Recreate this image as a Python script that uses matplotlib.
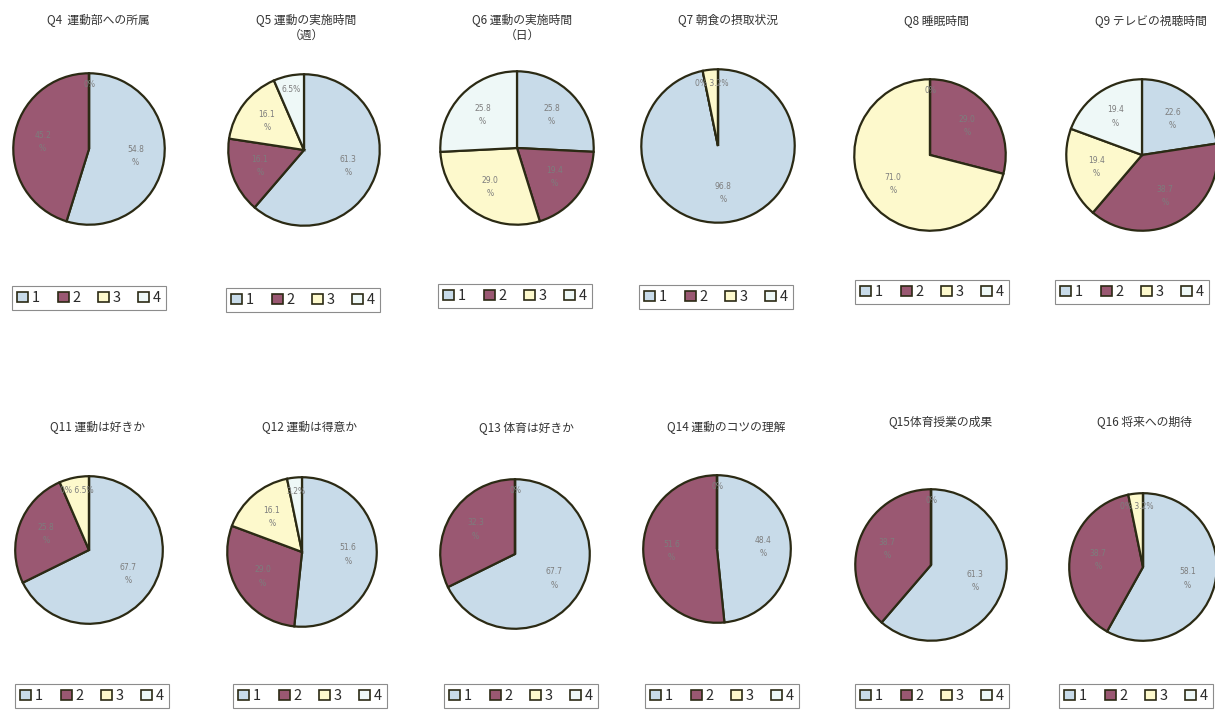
import matplotlib.pyplot as plt
from matplotlib.patches import Patch
import numpy as np

plt.rcParams['font.family'] = ['Noto Sans CJK JP', 'DejaVu Sans']

W, H = 1215, 710

categories = ["1", "2", "3", "4"]
colors = ["#c8dbe9", "#9a5872", "#fdf9cc", "#eef8f7"]

titles = [
    "Q4  運動部への所属", "Q5 運動の実施時間\n（週）", "Q6 運動の実施時間\n（日）",
    "Q7 朝食の摂取状況", "Q8 睡眠時間", "Q9 テレビの視聴時間",
    "Q11 運動は好きか", "Q12 運動は得意か", "Q13 体育は好きか",
    "Q14 運動のコツの理解", "Q15体育授業の成果", "Q16 将来への期待",
]

# percentages for answers 1..4 (31 respondents)
q4 = [54.8, 45.2, 0, 0]
q5 = [61.3, 16.1, 16.1, 6.5]
q6 = [25.8, 19.4, 29.0, 25.8]
q7 = [96.8, 0, 3.2, 0]
q8 = [0, 29.0, 71.0, 0]
q9 = [22.6, 38.7, 19.4, 19.4]
q11 = [67.7, 25.8, 6.5, 0]
q12 = [51.6, 29.0, 16.1, 3.2]
q13 = [67.7, 32.3, 0, 0]
q14 = [48.4, 51.6, 0, 0]
q15 = [61.3, 38.7, 0, 0]
q16 = [58.1, 38.7, 3.2, 0]
values = [q4, q5, q6, q7, q8, q9, q11, q12, q13, q14, q15, q16]

# layout in pixels: pie centre, radius, title centre, legend centre
pie_pos = [(89, 149, 78), (304, 150, 78), (517, 148, 79), (718, 146, 79), (930, 155, 78), (1142, 155, 78),
           (89, 550, 76), (302, 552, 77), (515, 554, 77), (717, 549, 76), (931, 565, 78), (1143, 567, 76)]
title_pos = [(98, 21), (306, 28), (522, 28), (728, 21), (936, 21), (1151, 21),
             (98, 428), (310, 428), (526, 428), (726, 428), (940, 422), (1144, 422)]
legend_pos = [(89, 298), (303, 300), (515, 296), (716, 297), (932, 292), (1132, 292),
              (92, 696), (310, 696), (521, 696), (722, 696), (932, 696), (1136, 696)]

fig = plt.figure(figsize=(W / 100, H / 100), dpi=100)
fig.patch.set_facecolor("white")

for i in range(len(values)):
    cx, cy, r = pie_pos[i]
    ax = fig.add_axes([(cx - r) / W, 1 - (cy + r) / H, 2 * r / W, 2 * r / H])
    wedges, _ = ax.pie(values[i], colors=colors, startangle=90, counterclock=False, radius=1,
                       wedgeprops=dict(edgecolor="#2b2a14", linewidth=1.6))

    # data labels; labels that fall on the same spot (zero slices) share one text
    groups = []
    order = sorted(range(len(wedges)), key=lambda k: values[i][k] == 0)
    for k in order:
        w, v = wedges[k], values[i][k]
        mid = np.deg2rad((w.theta1 + w.theta2) / 2)
        if v == 0:
            txt, d = "0%", 0.85
        elif v < 8:
            txt, d = f"{v:.1f}%", 0.82
        else:
            txt, d = f"{v:.1f}\n%", 0.62
        x, y = d * np.cos(mid), d * np.sin(mid)
        for g in groups:
            if np.hypot(g[0] - x, g[1] - y) < 0.3:
                if txt not in g[2]:
                    if v == 0:
                        g[2].insert(0, txt)
                    else:
                        g[2].append(txt)
                break
        else:
            groups.append([x, y, [txt]])
    for x, y, parts in groups:
        ax.text(x, y, " ".join(parts), ha="center", va="center",
                fontsize=5.5, color="#7d7d7d", family="DejaVu Sans", linespacing=1.6)
    ax.set_xlim(-1.03, 1.03)
    ax.set_ylim(-1.03, 1.03)
    ax.axis("off")

    tx, ty = title_pos[i]
    fig.text(tx / W, 1 - ty / H, titles[i], ha="center", va="center", fontsize=8.5,
             color="#333333", linespacing=1.15)

    handles = [Patch(facecolor=c, edgecolor="#2b2a14", linewidth=1.2) for c in colors]
    lx, ly = legend_pos[i]
    leg = fig.legend(handles, categories, loc="center", bbox_to_anchor=(lx / W, 1 - ly / H), ncol=4,
                     fontsize=10.5, handlelength=0.75, handleheight=0.75, handletextpad=0.25,
                     columnspacing=1.2, borderpad=0.35, fancybox=False, framealpha=1)
    leg.get_frame().set_edgecolor("#8c8c8c")
    leg.get_frame().set_linewidth(0.8)
    for t in leg.get_texts():
        t.set_color("#2a2a2a")

fig.savefig("out.png", dpi=100, facecolor="white")
